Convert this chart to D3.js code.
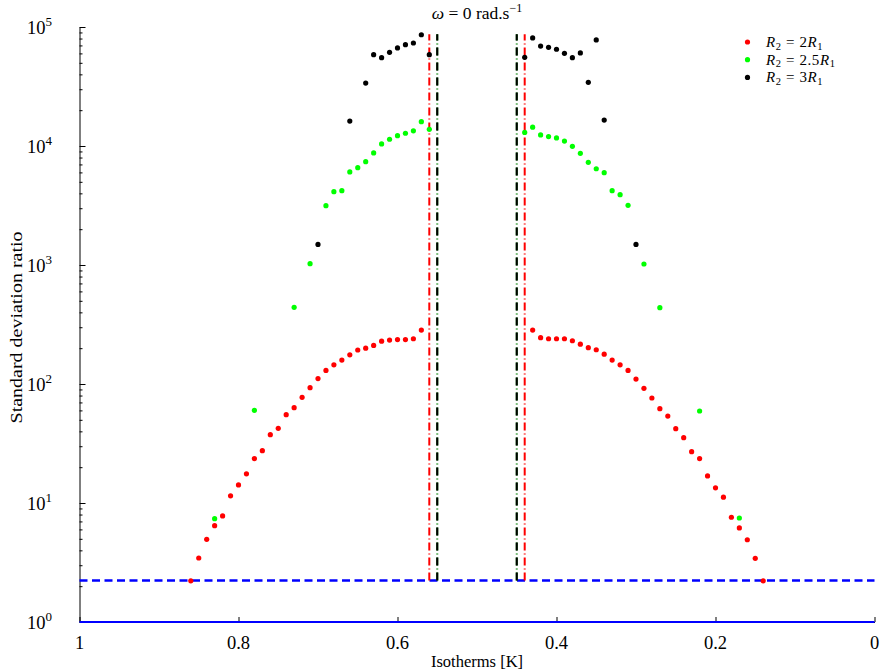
<!DOCTYPE html>
<html>
<head>
<meta charset="utf-8">
<script src="https://cdn.jsdelivr.net/npm/d3@7"></script>
<style>
  body { margin: 0; background: #fff; }
  svg { display: block; }
  svg text { font-family: "Liberation Serif", "Times New Roman", "DejaVu Serif", serif; }
</style>
</head>
<body>
<div id="chart"></div>
<script>
// R2 = 2R1
const redT = [0.86, 0.85, 0.84, 0.83, 0.82, 0.81, 0.80, 0.79, 0.78, 0.77,
  0.76, 0.75, 0.74, 0.73, 0.72, 0.71, 0.70, 0.69, 0.68, 0.67,
  0.66, 0.65, 0.64, 0.63, 0.62, 0.61, 0.60, 0.59, 0.58, 0.57,
  0.43, 0.42, 0.41, 0.40, 0.39, 0.38, 0.37, 0.36, 0.35, 0.34,
  0.33, 0.32, 0.31, 0.30, 0.29, 0.28, 0.27, 0.26, 0.25, 0.24,
  0.23, 0.22, 0.21, 0.20, 0.19, 0.18, 0.17, 0.16, 0.15, 0.14];
const redV = [2.22, 3.45, 4.95, 6.45, 7.78, 11.5, 14.2, 17.6, 23.6, 27.5,
  37.5, 42.4, 55.2, 63.2, 77.3, 93.1, 111, 130, 145, 159,
  176, 193, 200, 211, 229, 234, 236, 236, 240, 284,
  284, 245, 240, 240, 240, 231, 216, 202, 194, 178,
  159, 145, 130, 110, 92, 76.3, 62, 53.8, 42.1, 35.4,
  27, 23.6, 16.9, 13.4, 11.2, 7.59, 6.17, 4.91, 3.43, 2.22];

// R2 = 2.5R1
const greenT = [0.83, 0.78, 0.73, 0.71, 0.69, 0.68, 0.67, 0.66, 0.65, 0.64,
  0.63, 0.62, 0.61, 0.60, 0.59, 0.58, 0.57, 0.56,
  0.44, 0.43, 0.42, 0.41, 0.40, 0.39, 0.38, 0.37, 0.36, 0.35,
  0.34, 0.33, 0.32, 0.31, 0.29, 0.27, 0.22, 0.17];
const greenV = [7.38, 60.1, 441, 1026, 3150, 4130, 4210, 6050, 6580, 7390,
  8740, 10400, 11400, 12200, 12800, 13400, 16000, 13800,
  13000, 14400, 12400, 12000, 11700, 11000, 9940, 8680, 7290, 6440,
  5970, 4210, 3900, 3170, 1020, 438, 59.3, 7.48];

// R2 = 3R1
const blackT = [0.70, 0.66, 0.64, 0.63, 0.62, 0.61, 0.60, 0.59, 0.58, 0.57, 0.56,
  0.44, 0.43, 0.42, 0.41, 0.40, 0.39, 0.38, 0.37, 0.36, 0.35, 0.34, 0.30];
const blackV = [1490, 16200, 33800, 58500, 55200, 61300, 66700, 71000, 73400, 86100, 58500,
  55600, 80900, 69200, 67500, 65000, 60100, 55200, 60500, 34300, 77800, 16500, 1490];

// vertical limits and horizontal reference lines
const redLimits = [0.56, 0.44];
const blackLimits = [0.55, 0.45];
const limitSpan = [2.23, 87000];
const thresholdV = 2.23;
const baseV = 1;

const xTicks = [1, 0.8, 0.6, 0.4, 0.2, 0];
const yDecades = [0, 1, 2, 3, 4, 5];

const legendLabels = [
  { base: "2", color: "#ff0000" },
  { base: "2.5", color: "#00ff00" },
  { base: "3", color: "#000000" }
];

const width = 880;
const height = 671;

const svg = d3.select("#chart").append("svg")
  .attr("width", width)
  .attr("height", height);

const x = d3.scaleLinear().domain([1, 0]).range([79.5, 874.5]);
const y = d3.scaleLog().domain([1, 1e5]).range([622, 27]);

// axes
const yAxis = d3.axisRight(y)
  .tickValues(y.ticks())
  .tickFormat("")
  .tickSizeOuter(0);
const yAxisG = svg.append("g")
  .attr("transform", `translate(${x(1)},0)`)
  .call(yAxis);
yAxisG.select(".domain").attr("stroke", "#000").attr("stroke-width", 1);
yAxisG.selectAll(".tick line")
  .attr("x2", d => Math.abs(Math.log10(d) - Math.round(Math.log10(d))) < 1e-9 ? 6 : 3)
  .attr("stroke", "#000");

const xAxis = d3.axisTop(x)
  .tickValues(xTicks)
  .tickFormat("")
  .tickSize(5)
  .tickSizeOuter(0);
svg.append("g")
  .attr("transform", `translate(0,${y(1)})`)
  .call(xAxis)
  .selectAll("line, path").attr("stroke", "#000");

// tick labels
svg.append("g").selectAll("text")
  .data(xTicks)
  .join("text")
  .attr("x", d => x(d))
  .attr("y", 649)
  .attr("text-anchor", "middle")
  .attr("font-size", 18.5)
  .text(d => d3.format("")(d));

const yLab = svg.append("g").selectAll("text")
  .data(yDecades)
  .join("text")
  .attr("x", 27)
  .attr("y", d => y(Math.pow(10, d)) + 7)
  .attr("font-size", 18.5);
yLab.append("tspan").text("10");
yLab.append("tspan")
  .attr("dy", -8)
  .attr("font-size", 13)
  .text(d => d);

// axis titles
svg.append("text")
  .attr("x", 477)
  .attr("y", 667)
  .attr("text-anchor", "middle")
  .attr("font-size", 16.5)
  .text("Isotherms [K]");

svg.append("text")
  .attr("transform", `translate(22,${y(Math.pow(10, 2.5)) + 3}) rotate(-90)`)
  .attr("text-anchor", "middle")
  .attr("font-size", 17)
  .attr("textLength", 192)
  .attr("lengthAdjust", "spacingAndGlyphs")
  .text("Standard deviation ratio");

const title = svg.append("text")
  .attr("x", 477)
  .attr("y", 19)
  .attr("text-anchor", "middle")
  .attr("font-size", 17.5);
title.append("tspan").attr("font-style", "italic").text("ω");
title.append("tspan").text(" = 0 rad.s");
title.append("tspan").attr("dy", -7).attr("font-size", 12).text("−1");

// horizontal lines
svg.append("line")
  .attr("x1", x(1)).attr("x2", x(0))
  .attr("y1", y(baseV)).attr("y2", y(baseV))
  .attr("stroke", "#0000ff")
  .attr("stroke-width", 2);

svg.append("line")
  .attr("x1", x(1)).attr("x2", x(0))
  .attr("y1", y(thresholdV)).attr("y2", y(thresholdV))
  .attr("stroke", "#0000ff")
  .attr("stroke-width", 2.5)
  .attr("stroke-dasharray", "8,4.5");

// vertical limit lines
const vline = (pos, color, dash, w) => {
  svg.append("g").selectAll("line")
    .data(pos)
    .join("line")
    .attr("x1", d => x(d)).attr("x2", d => x(d))
    .attr("y1", y(limitSpan[0])).attr("y2", y(limitSpan[1]))
    .attr("stroke", color)
    .attr("stroke-width", w)
    .attr("stroke-dasharray", dash);
};
vline(redLimits, "#ff0000", "8,3,1,3", 2);
vline(blackLimits, "#008000", "8,3,1,3", 2);
vline(blackLimits, "#000000", "8,7", 2);

// points
const drawSeries = (ts, vs, color) => {
  svg.append("g").selectAll("circle")
    .data(ts.map((t, i) => ({ t: t, v: vs[i] })))
    .join("circle")
    .attr("cx", d => x(d.t))
    .attr("cy", d => y(d.v))
    .attr("r", 2.6)
    .attr("fill", color);
};
drawSeries(redT, redV, "#ff0000");
drawSeries(greenT, greenV, "#00ff00");
drawSeries(blackT, blackV, "#000000");

// legend
const legend = svg.append("g");
legendLabels.forEach((item, i) => {
  const ly = 42 + i * 17.7;
  legend.append("circle")
    .attr("cx", 747.5)
    .attr("cy", ly)
    .attr("r", 2.6)
    .attr("fill", item.color);
  const t = legend.append("text")
    .attr("x", 766)
    .attr("y", ly + 5)
    .attr("font-size", 15)
    .attr("letter-spacing", 0.6);
  t.append("tspan").attr("font-style", "italic").text("R");
  t.append("tspan").attr("dy", 2.5).attr("font-size", 10.5).text("2");
  t.append("tspan").attr("dy", -2.5).text(" = " + item.base);
  t.append("tspan").attr("font-style", "italic").text("R");
  t.append("tspan").attr("dy", 2.5).attr("font-size", 10.5).text("1");
});
</script>
</body>
</html>
